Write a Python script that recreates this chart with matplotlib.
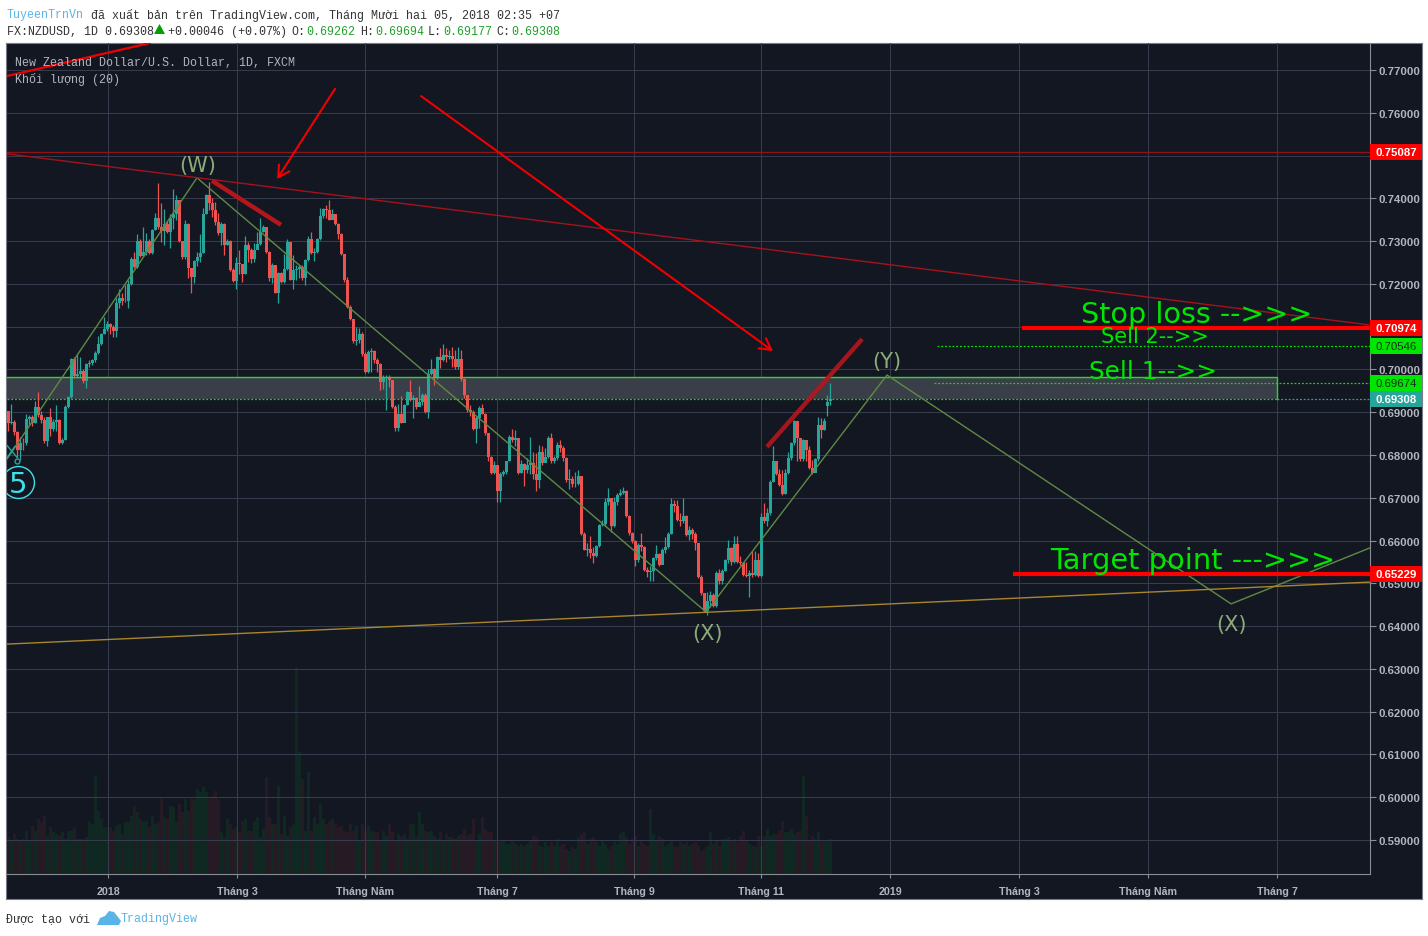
import matplotlib
matplotlib.use('Agg')
import matplotlib.pyplot as plt
from matplotlib.patches import Rectangle, Polygon
import numpy as np

W, H = 1428, 937

# daily candles, price in pips (0.0001)
closes = [6876,6878,6853,6812,6829,6828,6884,6890,6874,6912,
 6894,6881,6832,6888,6860,6877,6882,6829,6835,6912,
 6935,7024,6985,6989,6997,6972,7013,7016,7021,7039,
 7060,7084,7094,7106,7100,7091,7156,7168,7161,7161,
 7200,7259,7240,7301,7265,7275,7301,7273,7327,7355,
 7333,7324,7340,7322,7353,7364,7396,7300,7263,7341,
 7236,7217,7254,7262,7273,7364,7407,7389,7372,7345,
 7318,7340,7291,7301,7232,7207,7248,7246,7224,7291,
 7280,7259,7279,7293,7322,7332,7275,7213,7244,7179,
 7226,7205,7234,7298,7210,7232,7234,7240,7213,7257,
 7304,7273,7275,7306,7358,7374,7372,7350,7363,7340,
 7316,7271,7209,7147,7119,7067,7069,7084,7036,6995,
 7041,7044,7022,7013,6971,6982,6983,6975,6913,6862,
 6897,6876,6917,6948,6929,6933,6913,6925,6940,6901,
 6989,7000,6983,7028,7022,7034,7030,7031,7024,7006,
 7024,6977,6940,6905,6901,6860,6886,6909,6897,6851,
 6796,6757,6777,6715,6756,6761,6785,6842,6835,6839,
 6757,6779,6765,6777,6781,6756,6742,6808,6782,6796,
 6839,6785,6792,6824,6816,6792,6742,6743,6733,6733,
 6750,6616,6579,6580,6572,6565,6588,6637,6639,6691,
 6699,6633,6691,6707,6712,6717,6658,6617,6598,6554,
 6590,6585,6532,6526,6528,6559,6569,6544,6579,6585,
 6616,6686,6680,6647,6645,6658,6614,6625,6616,6594,
 6515,6477,6435,6458,6473,6446,6524,6505,6530,6555,
 6582,6551,6593,6551,6547,6520,6518,6524,6520,6555,
 6518,6656,6645,6664,6738,6787,6756,6730,6709,6757,
 6792,6827,6880,6839,6790,6835,6812,6769,6757,6790,
 6870,6859,6880,6925,6931]
highs = [6902,6920,6881,6855,6843,6839,6896,6894,6894,6927,
 6947,6904,6890,6890,6909,6884,6917,6884,6839,6917,
 6938,7027,7028,7036,7030,7000,7016,7021,7024,7042,
 7078,7086,7123,7114,7109,7104,7166,7187,7179,7197,
 7209,7262,7275,7316,7306,7332,7319,7306,7329,7366,
 7435,7389,7374,7347,7364,7421,7407,7397,7288,7350,
 7343,7238,7257,7275,7316,7378,7410,7438,7400,7392,
 7366,7345,7343,7304,7302,7238,7263,7279,7246,7312,
 7298,7285,7296,7322,7355,7337,7333,7277,7248,7244,
 7228,7228,7271,7304,7298,7267,7244,7244,7244,7259,
 7312,7322,7283,7308,7378,7378,7384,7396,7374,7364,
 7343,7318,7271,7217,7151,7119,7100,7096,7088,7041,
 7045,7049,7045,7026,7014,6987,6987,6987,6975,6917,
 6919,6938,6919,6950,6975,6940,6936,6961,6944,6944,
 7000,7024,7003,7031,7049,7059,7049,7045,7053,7045,
 7053,7045,6979,6940,6917,6905,6891,6915,6919,6899,
 6852,6798,6787,6777,6761,6765,6787,6847,6860,6859,
 6839,6789,6782,6792,6842,6808,6804,6824,6820,6816,
 6845,6851,6798,6831,6835,6821,6795,6767,6750,6761,
 6765,6750,6621,6594,6610,6586,6590,6639,6649,6699,
 6722,6699,6703,6711,6720,6726,6719,6660,6621,6602,
 6594,6617,6588,6538,6540,6561,6590,6572,6582,6608,
 6621,6699,6695,6695,6664,6699,6660,6633,6629,6619,
 6594,6520,6477,6479,6481,6477,6528,6533,6533,6557,
 6602,6586,6610,6611,6563,6551,6551,6532,6575,6575,
 6572,6664,6687,6676,6742,6820,6787,6767,6765,6767,
 6808,6831,6883,6874,6839,6837,6831,6820,6789,6792,
 6888,6886,6886,6940,6969]
lows = [6855,6873,6847,6793,6789,6812,6824,6870,6867,6874,
 6888,6874,6828,6820,6845,6855,6855,6826,6826,6834,
 6909,6933,6979,6979,6979,6969,6956,7005,7011,7018,
 7036,7057,7083,7091,7083,7075,7075,7143,7151,7158,
 7143,7197,7236,7238,7262,7265,7267,7270,7270,7327,
 7329,7298,7291,7318,7283,7329,7350,7298,7259,7259,
 7213,7179,7201,7242,7252,7273,7363,7372,7357,7337,
 7314,7291,7267,7291,7231,7205,7189,7224,7205,7223,
 7252,7248,7252,7288,7291,7322,7273,7207,7201,7178,
 7156,7203,7203,7232,7209,7189,7209,7213,7210,7197,
 7254,7270,7254,7273,7302,7355,7353,7349,7355,7337,
 7304,7267,7205,7143,7116,7062,7057,7061,7031,6991,
 6992,6995,7016,6995,6952,6954,6905,6960,6911,6855,
 6855,6874,6886,6917,6927,6886,6907,6917,6917,6899,
 6886,6987,6964,6977,7003,7020,7018,7024,7005,7000,
 7000,6974,6933,6901,6891,6859,6829,6862,6896,6847,
 6785,6756,6756,6691,6691,6750,6756,6785,6831,6820,
 6756,6757,6728,6757,6756,6743,6717,6722,6777,6785,
 6792,6782,6781,6789,6808,6787,6738,6720,6726,6726,
 6730,6614,6577,6563,6559,6547,6561,6585,6633,6633,
 6684,6621,6631,6684,6705,6709,6655,6614,6594,6540,
 6551,6575,6528,6516,6505,6505,6555,6541,6554,6572,
 6582,6616,6666,6645,6633,6642,6610,6602,6603,6579,
 6512,6473,6432,6427,6445,6445,6445,6499,6499,6528,
 6547,6544,6547,6547,6544,6518,6516,6468,6516,6518,
 6515,6516,6642,6633,6660,6736,6754,6728,6707,6709,
 6756,6789,6824,6785,6787,6785,6785,6767,6756,6761,
 6787,6839,6859,6891,6918]
first_open = 6902
open_fix = {273: 6915, 274: 6926}

# volume, no scale on the chart so units are arbitrary
volumes = [110,100,120,105,100,105,130,100,145,130,165,
 155,175,115,140,125,120,115,125,105,130,
 130,140,105,105,105,110,155,150,295,190,
 165,140,140,140,130,145,150,120,155,155,
 175,205,185,165,155,160,140,175,150,155,
 230,170,165,205,200,155,210,185,225,190,
 225,225,255,245,260,245,230,235,250,225,
 125,110,165,150,135,140,125,160,165,130,
 130,160,170,110,135,290,170,150,150,265,
 120,175,115,140,150,620,365,285,130,305,
 130,170,150,210,165,150,160,165,150,140,
 145,130,125,150,130,145,100,150,130,145,
 130,125,125,100,130,115,150,125,100,120,
 115,120,105,150,150,115,185,150,130,125,
 130,115,105,125,100,120,110,110,105,115,
 120,135,115,120,165,100,120,170,135,125,
 125,100,95,95,100,90,90,100,90,85,
 90,85,90,100,115,110,85,80,95,85,
 95,85,105,85,90,75,70,80,75,110,
 120,125,90,105,110,95,85,100,90,75,
 85,95,90,120,125,110,90,105,115,85,
 100,90,85,195,120,100,115,105,85,90,
 100,85,80,95,90,95,85,90,95,85,
 70,75,85,125,90,100,85,105,105,110,
 100,105,95,115,130,100,90,85,80,115,
 85,115,135,115,120,120,130,160,125,125,
 135,120,125,130,295,175,100,115,105,125,
 95,100,100,105]

price_ticks = [0.77,0.76,0.75,0.74,0.73,0.72,0.71,0.70,0.69,0.68,0.67,0.66,0.65,
               0.64,0.63,0.62,0.61,0.60,0.59]
hidden_ticks = [0.75, 0.71]  # covered by the price badges
date_pos = [33.3,76.3,119,163,208.7,251,294,337,380,423]
date_labels = ['2018','Tháng 3','Tháng Năm','Tháng 7','Tháng 9','Tháng 11',
               '2019','Tháng 3','Tháng Năm','Tháng 7']

# drawings on the chart as (bar number, price)
wave_x = [-0.4,62.9,232.6,292.9,407.6,453.9]
wave_y = [0.6791,0.7448,0.6433,0.6987,0.6452,0.6583]
resist_x = [-0.4,453.9]
resist_y = [0.7504,0.7104]
support_x = [-0.4,453.9]
support_y = [0.6358,0.6503]
level_stop = 0.70974
level_sell2 = 0.70546
level_sell1 = 0.69674
level_last = 0.69308
level_target = 0.65229
level_high = 0.75087
zone_top = 0.69824

BG = '#131722'
GRID = '#363c4e'
UP = '#26a69a'
DOWN = '#ef5350'
LIME = '#00e600'
WAVE = '#5f8a45'
LABEL = '#8bab78'
TXT = '#b2b5be'
CYAN = '#3fe0e8'
MONO = ['Liberation Mono', 'DejaVu Sans Mono']

closes = np.array(closes) / 10000
highs = np.array(highs) / 10000
lows = np.array(lows) / 10000
opens = np.r_[first_open / 10000, closes[:-1]]
for k, v in open_fix.items():
    opens[k] = v / 10000
bars = np.arange(len(closes))
up = closes >= opens

fig = plt.figure(figsize=(W / 100, H / 100), dpi=100, facecolor='white')


def box(x0, y0, x1, y1):
    return [x0 / W, 1 - y1 / H, (x1 - x0) / W, (y1 - y0) / H]


def ftext(x, y, s, **kw):
    kw.setdefault('family', MONO)
    kw.setdefault('fontsize', 8.4)
    kw.setdefault('va', 'center')
    fig.text(x / W, 1 - y / H, s, **kw)


# frame around chart + price scale + time scale
back = fig.add_axes(box(6, 44, 1422, 900), facecolor=BG, zorder=0)
back.set_xticks([])
back.set_yticks([])
for s in back.spines.values():
    s.set_color('#7a7d87')

# volumes sit under everything
vol = fig.add_axes(box(7, 44, 1370, 875), zorder=1)
vol.patch.set_alpha(0)
vol.axis('off')
vol.set_xlim(-0.43, 453.9)
vol.set_ylim(0, 2490)
vol.bar(bars, volumes, width=1.0, color=np.where(up, '#102822', '#261a24'), linewidth=0)

ax = fig.add_axes(box(7, 44, 1370, 875), zorder=2)
ax.patch.set_alpha(0)
ax.set_xlim(-0.43, 453.9)
ax.set_ylim(0.58206, 0.77631)
ax.grid(True, color=GRID, lw=0.75, zorder=1)
ax.set_axisbelow(True)
ax.yaxis.tick_right()
ax.set_yticks(price_ticks)
ax.set_yticklabels(['' if p in hidden_ticks else '%.5f' % p for p in price_ticks], family='Liberation Sans',
                   fontweight='bold', fontsize=8.2, color=TXT)
ax.set_xticks(date_pos)
ax.set_xticklabels(date_labels, family='Liberation Sans', fontweight='bold',
                   fontsize=7.7, color=TXT)
ax.tick_params(axis='y', length=4, color='#8a8d96', pad=2)
ax.tick_params(axis='x', length=3, color='#8a8d96', pad=6)
for name, s in ax.spines.items():
    s.set_visible(name in ('right', 'bottom'))
    s.set_color('#8a8d96')

# zone behind candles
ax.add_patch(Rectangle((-0.4, level_last), 423.3, zone_top - level_last, facecolor='#3a3e48',
                       edgecolor='none', zorder=1.5))

# candles
colors = np.where(up, UP, DOWN)
ax.vlines(bars, lows, highs, colors=colors, lw=0.9, zorder=3)
ax.bar(bars, np.abs(closes - opens), bottom=np.minimum(opens, closes), width=0.9,
       color=colors, linewidth=0, zorder=3)

# zone edges
ax.plot([-0.4, 422.9, 422.9], [zone_top, zone_top, level_last], color='#2fd42f', lw=1, zorder=4)
ax.plot([-0.4, 422.9], [level_last, level_last], color=LIME, lw=0.9, ls=(0, (1.5, 1.5)), zorder=4)
ax.plot([422.9, 453.9], [level_last, level_last], color=UP, lw=0.9, ls=(0, (1.5, 1.5)), zorder=4)
ax.plot([309.6, 453.9], [level_sell2, level_sell2], color=LIME, lw=0.9, ls=(0, (1.5, 1.5)), zorder=4)
ax.plot([308.6, 453.9], [level_sell1, level_sell1], color=LIME, lw=0.9, ls=(0, (1.5, 1.5)), zorder=4)

# trend lines
ax.plot(wave_x, wave_y, color=WAVE, lw=1, zorder=5)
ax.plot(resist_x, resist_y, color='#a5121a', lw=1, zorder=5)
ax.plot([-0.4, 453.9], [level_high, level_high], color='#8f1216', lw=1, zorder=5)
ax.plot(support_x, support_y, color='#a8862c', lw=1, zorder=5)

# teal cross and dot at the start of the wave
ax.plot([-0.4, 3], [0.6822, 0.6794], color=UP, lw=1, zorder=6)
ax.plot([-0.4, 2.2], [0.6794, 0.6820], color=UP, lw=1, zorder=6)
ax.plot([2.9], [0.6785], 'o', ms=3.5, mfc='none', mec=UP, mew=1, zorder=6)

# red marks
arrow = dict(arrowstyle='->,head_length=0.8,head_width=0.45', color='#f00000', lw=1.5, shrinkA=0, shrinkB=0)
ax.plot([-0.4, 47.2], [0.7686, 0.7763], color='#f00000', lw=1.6, zorder=6)
ax.annotate('', xy=(89.6, 0.7445), xytext=(108.9, 0.7656), arrowprops=arrow, zorder=6)
ax.annotate('', xy=(254.9, 0.7043), xytext=(137.6, 0.7639), arrowprops=arrow, zorder=6)
ax.plot([67.9, 90.9], [0.7441, 0.7338], color='#b5161b', lw=3.2, zorder=6, solid_capstyle='butt')
ax.plot([252.9, 284.6], [0.6819, 0.7071], color='#b5161b', lw=3.2, alpha=0.9, zorder=6, solid_capstyle='butt')
ax.plot([337.9, 453.9], [level_stop, level_stop], color='#ff0000', lw=3, zorder=6, solid_capstyle='butt')
ax.plot([334.9, 453.9], [level_target, level_target], color='#ff0000', lw=3, zorder=6, solid_capstyle='butt')

# circled 5
ax.plot([3.2], [0.6737], 'o', ms=23, mfc='none', mec=CYAN, mew=1, zorder=7)

# badges on the price scale
badges = [(level_high, '#ff0000', 'white', 'bold'),
          (level_stop, '#ff0000', 'white', 'bold'),
          (level_sell2, LIME, '#123012', 'normal'),
          (level_sell1, LIME, '#123012', 'normal'),
          (level_last, UP, 'white', 'bold'),
          (level_target, '#ff0000', 'white', 'bold')]
tr = ax.get_yaxis_transform()
for p, bg, fg, wt in badges:
    ax.add_patch(Rectangle((1.0, p - 8 / 4278), 52 / 1363, 16 / 4278, transform=tr, facecolor=bg,
                           edgecolor='none', clip_on=False, zorder=8))
    ax.text(1.0 + 6 / 1363, p, '%.5f' % p, transform=tr, family='Liberation Sans', fontweight=wt,
            fontsize=8.2, color=fg, va='center', ha='left', zorder=9, clip_on=False)

# green notes
ftext(1081, 315, 'Stop loss -->>>', family='DejaVu Sans', fontsize=20.6, color=LIME, zorder=5)
ftext(1101, 337, 'Sell 2-->>', family='DejaVu Sans', fontsize=15, color=LIME, zorder=5)
ftext(1089, 372, 'Sell 1-->>', family='DejaVu Sans', fontsize=17.8, color=LIME, zorder=5)
ftext(1050, 561, 'Target point --->>>', family='DejaVu Sans', fontsize=20.8, color=LIME, zorder=5)
ftext(198, 166, '(W)', family='DejaVu Sans', fontsize=15, color=LABEL, ha='center', zorder=5)
ftext(707, 634, '(X)', family='DejaVu Sans', fontsize=15, color=LABEL, ha='center', zorder=5)
ftext(887, 362, '(Y)', family='DejaVu Sans', fontsize=15, color=LABEL, ha='center', zorder=5)
ftext(1232, 625, '(X)', family='DejaVu Sans', fontsize=15, color=LABEL, ha='center', zorder=5)
ftext(18, 485, '5', family='DejaVu Sans', fontsize=21, color=CYAN, ha='center', zorder=5)

# header
ftext(7, 15, 'TuyeenTrnVn', color='#5ab4e6')
ftext(84, 15, ' đã xuất bản trên TradingView.com, Tháng Mười hai 05, 2018 02:35 +07', color='#333333')
ftext(7, 32, 'FX:NZDUSD, 1D 0.69308', color='#333333')
fig.patches.append(Polygon([(154 / W, 1 - 35 / H), (165 / W, 1 - 35 / H), (159.5 / W, 1 - 25 / H)],
                           transform=fig.transFigure, facecolor='#00a000', edgecolor='none'))
ftext(168, 32, '+0.00046 (+0.07%)', color='#333333')
for x, tag, val in [(291, 'O:', '0.69262'), (360, 'H:', '0.69694'), (428, 'L:', '0.69177'), (496, 'C:', '0.69308')]:
    ftext(x, 32, tag, color='#333333')
    ftext(x + 15, 32, val, color='#22a02a')

ftext(15, 63, 'New Zealand Dollar/U.S. Dollar, 1D, FXCM', color=TXT, zorder=5)
ftext(15, 80, 'Khối lượng (20)', color=TXT, zorder=5)

# footer
ftext(6, 919, 'Được tạo với', color='#333333')
ftext(121, 919, 'TradingView', color='#5ab4e6')
fig.patches.append(Polygon([(x / W, 1 - y / H) for x, y in
                            [(97, 926), (100, 919), (105, 917), (109, 912), (114, 913), (118, 918), (121, 922), (119, 926)]],
                           transform=fig.transFigure, facecolor='#5ab4e6', edgecolor='none'))

fig.savefig('out.png', dpi=100, facecolor='white')
